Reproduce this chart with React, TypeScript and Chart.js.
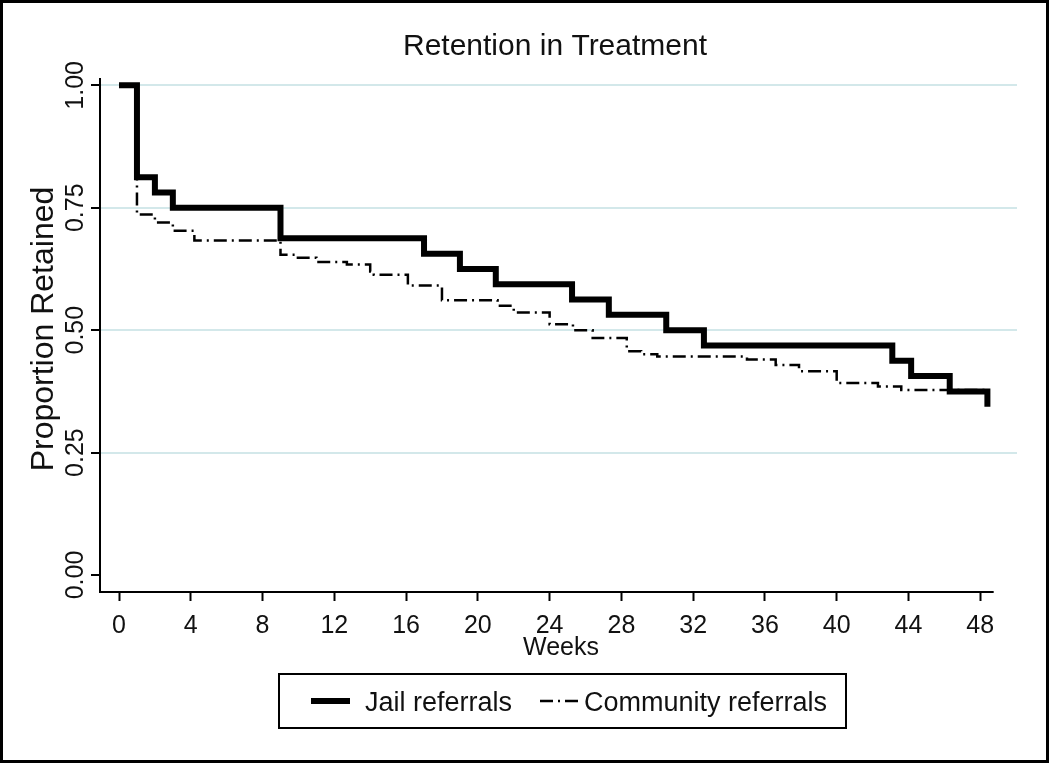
import React, { useEffect, useRef } from "react";
import { Chart, registerables } from "chart.js";

Chart.register(...registerables);

// ---------- data ----------
const chartTitle = "Retention in Treatment";
const xAxisTitle = "Weeks";
const yAxisTitle = "Proportion Retained";
const seriesNames = ["Jail referrals", "Community referrals"];

const xTickValues = [0, 4, 8, 12, 16, 20, 24, 28, 32, 36, 40, 44, 48];
const yTickValues = [0, 0.25, 0.5, 0.75, 1];
const yTickLabels = ["0.00", "0.25", "0.50", "0.75", "1.00"];

const jailWeeks = [0, 1, 2, 3, 9, 17, 19, 21, 25.25, 27.3, 30.5, 32.6, 43.1, 44.15, 46.3, 48.4];
const jailRetained = [1, 0.8125, 0.78125, 0.75, 0.6875, 0.65625, 0.625, 0.59375, 0.5625, 0.53125, 0.5, 0.46875, 0.4375, 0.40625, 0.375, 0.34375];

const communityWeeks = [0, 1, 2, 3, 4.2, 9, 9.8, 11, 12.7, 14, 14.2, 16.1, 18, 21.1, 22, 24, 25.3, 26.4, 28.3, 29.1, 30, 35, 36.6, 37.9, 40, 42.3, 43.6, 48.4];
const communityRetained = [1, 0.736, 0.72, 0.703, 0.683, 0.654, 0.648, 0.639, 0.634, 0.62, 0.613, 0.591, 0.561, 0.55, 0.536, 0.512, 0.5, 0.484, 0.457, 0.451, 0.446, 0.44, 0.429, 0.416, 0.392, 0.385, 0.378, 0.378];

// ---------- styling ----------
const FONT = '"Liberation Sans", Arial, sans-serif';
const INK = "#111111";
const GRID = "#d3e8ea";
const X_MIN = -1.06;
const X_MAX = 50.05;
const X_AXIS_END = 48.75;
const Y_MIN = -0.0347;
const Y_MAX = 1.015;

const decorPlugin = {
  id: "decor",
  beforeDraw(chart: any) {
    const ctx = chart.ctx;
    ctx.save();
    ctx.fillStyle = "#ffffff";
    ctx.fillRect(0, 0, chart.width, chart.height);
    ctx.restore();
  },
  afterDraw(chart: any) {
    const ctx = chart.ctx;
    const area = chart.chartArea;
    const xs = chart.scales.x;
    const ys = chart.scales.y;
    ctx.save();

    // axis lines
    ctx.strokeStyle = "#000";
    ctx.lineWidth = 2;
    ctx.beginPath();
    ctx.moveTo(area.left, area.top);
    ctx.lineTo(area.left, area.bottom);
    ctx.lineTo(xs.getPixelForValue(X_AXIS_END), area.bottom);
    ctx.stroke();

    ctx.fillStyle = INK;
    // title
    ctx.font = `30px ${FONT}`;
    ctx.textAlign = "center";
    ctx.textBaseline = "alphabetic";
    ctx.fillText(chartTitle, 555, 55);

    // x axis title
    ctx.font = `25px ${FONT}`;
    ctx.fillText(xAxisTitle, 561, 655);

    // y tick labels (rotated)
    ctx.font = `25px ${FONT}`;
    yTickValues.forEach((v, i) => {
      const py = ys.getPixelForValue(v);
      ctx.save();
      ctx.translate(area.left - 17, py);
      ctx.rotate(-Math.PI / 2);
      ctx.textAlign = "center";
      ctx.fillText(yTickLabels[i], 0, 0);
      ctx.restore();
    });

    // y axis title
    ctx.save();
    ctx.font = `32px ${FONT}`;
    ctx.translate(53, (area.top + area.bottom) / 2 - 6);
    ctx.rotate(-Math.PI / 2);
    ctx.textAlign = "center";
    ctx.fillText(yAxisTitle, 0, 0);
    ctx.restore();

    // legend
    const lx = 279, ly = 674, lw = 567, lh = 54;
    ctx.strokeStyle = "#000";
    ctx.lineWidth = 2;
    ctx.strokeRect(lx, ly, lw, lh);
    const midY = ly + lh / 2;
    const ds = chart.data.datasets;
    const samples = [
      { x0: 311, x1: 350, tx: 365 },
      { x0: 540, x1: 580, tx: 584 },
    ];
    samples.forEach((s, i) => {
      ctx.save();
      ctx.strokeStyle = ds[i].borderColor;
      ctx.lineWidth = ds[i].borderWidth;
      ctx.setLineDash(ds[i].borderDash || []);
      ctx.beginPath();
      ctx.moveTo(s.x0, midY);
      ctx.lineTo(s.x1, midY);
      ctx.stroke();
      ctx.restore();
      ctx.font = `27px ${FONT}`;
      ctx.textAlign = "left";
      ctx.fillStyle = INK;
      ctx.fillText(seriesNames[i], s.tx, midY + 10);
    });

    // outer frame
    ctx.strokeStyle = "#000";
    ctx.lineWidth = 3;
    ctx.strokeRect(1.5, 1.5, chart.width - 4, chart.height - 4);
    ctx.restore();
  },
};

export default function App() {
  const canvasRef = useRef<HTMLCanvasElement | null>(null);

  useEffect(() => {
    const canvas = canvasRef.current;
    if (!canvas) return;
    const chart = new Chart(canvas, {
      type: "line",
      data: {
        datasets: [
          {
            label: seriesNames[0],
            data: jailWeeks.map((w, i) => ({ x: w, y: jailRetained[i] })),
            stepped: "before",
            borderColor: "#000000",
            borderWidth: 6,
            pointRadius: 0,
            fill: false,
          },
          {
            label: seriesNames[1],
            data: communityWeeks.map((w, i) => ({ x: w, y: communityRetained[i] })),
            stepped: "before",
            borderColor: "#000000",
            borderWidth: 2.5,
            borderDash: [13, 5, 2, 5],
            pointRadius: 0,
            fill: false,
          },
        ],
      },
      options: {
        animation: false,
        responsive: false,
        devicePixelRatio: 1,
        layout: { padding: { left: 70, right: 33, top: 78, bottom: 112 } },
        plugins: {
          legend: { display: false },
          title: { display: false },
          tooltip: { enabled: false },
        },
        scales: {
          x: {
            type: "linear",
            min: X_MIN,
            max: X_MAX,
            afterBuildTicks: (scale: any) => {
              scale.ticks = xTickValues.map((v) => ({ value: v }));
            },
            afterFit: (scale: any) => {
              scale.height = 60;
            },
            ticks: {
              color: INK,
              font: { family: FONT, size: 25 },
              padding: 10,
              maxRotation: 0,
              minRotation: 0,
              callback: (v: any) => String(v),
            },
            grid: {
              drawOnChartArea: false,
              drawTicks: true,
              tickLength: 9,
              tickColor: "#000",
              tickWidth: 2,
            },
            border: { display: false },
          },
          y: {
            type: "linear",
            min: Y_MIN,
            max: Y_MAX,
            afterBuildTicks: (scale: any) => {
              scale.ticks = yTickValues.map((v) => ({ value: v }));
            },
            afterFit: (scale: any) => {
              scale.width = 30;
            },
            ticks: { display: false },
            grid: {
              color: (c: any) => (c.tick && c.tick.value === 0 ? "rgba(0,0,0,0)" : GRID),
              lineWidth: 2,
              drawTicks: true,
              tickLength: 9,
              tickColor: "#000",
              tickWidth: 2,
            },
            border: { display: false },
          },
        },
      },
      plugins: [decorPlugin],
    });
    return () => chart.destroy();
  }, []);

  return (
    <div style={{ position: "absolute", left: 0, top: 0, width: 1050, height: 764, background: "#fff" }}>
      <canvas ref={canvasRef} width={1050} height={764} style={{ display: "block" }} />
    </div>
  );
}
